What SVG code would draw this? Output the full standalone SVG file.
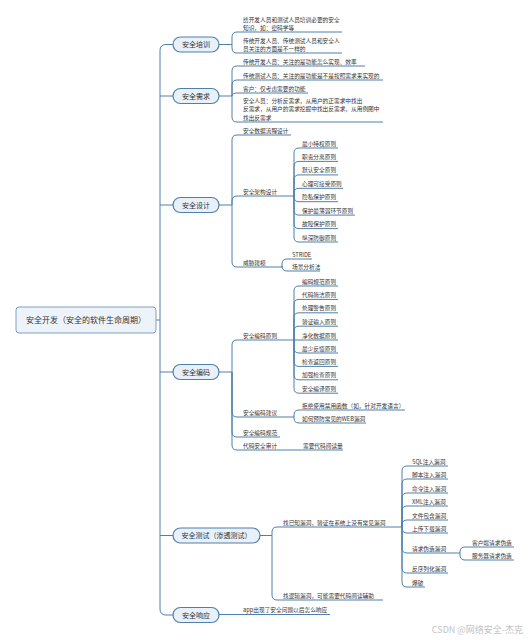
<svg xmlns="http://www.w3.org/2000/svg" width="529" height="640" viewBox="0 0 529 640">
<style>
text{font-family:"Noto Sans CJK SC","Liberation Sans",sans-serif;fill:#333}
.t{font-size:5.7px}
.n{font-size:7px;text-anchor:middle}
.r{font-size:8px}
.box{fill:#e8f1fa;stroke:#4f80ab;stroke-width:1.2}
.c path{fill:none;stroke:#4f80ab;stroke-width:1}
.wm{font-size:9px;fill:#c4c4c4;text-anchor:end}
</style>
<rect width="529" height="640" fill="#fff"/>
<g class="c" id="connectors">
<path d="M173 44.5 H166 Q160 44.5 160 50.5 V609 Q160 615 166 615 H173"/>
<path d="M160 96 H173 M160 205 H173 M160 372 H173 M160 535.5 H173 M156 320 H160"/>
<!-- 安全培训 -->
<path d="M219 44.5 H232 M232 44.5 V37 Q232 32 237 32 H342 M232 44.5 V48 Q232 53 237 53 H342"/>
<!-- 安全需求 -->
<path d="M219 96 H232 M232 96 V71 Q232 66 237 66 H365 M232 96 V85 Q232 80 237 80 H383 M232 96 Q232 93 237 93 H308 M232 96 V117 Q232 122 237 122 H383"/>
<!-- 安全设计 -->
<path d="M219 205 H232 M232 205 V140 Q232 135 237 135 H291 M232 205 V201 Q232 196 237 196 H294 M232 205 V262 Q232 267 237 267 H282"/>
<path d="M294 196 V153 Q294 148 299 148 H338 M294 196 V166.4 Q294 161.4 299 161.4 H338 M294 196 V179.9 Q294 174.9 299 174.9 H338 M294 196 V193.3 Q294 188.3 299 188.3 H343 M294 196 V196.7 Q294 201.7 299 201.7 H338 M294 196 V210.1 Q294 215.1 299 215.1 H355 M294 196 V223.6 Q294 228.6 299 228.6 H338 M294 196 V237 Q294 242 299 242 H338"/>
<path d="M282 267 V264 Q282 259 287 259 H312 M282 267 V266 Q282 271 287 271 H320"/>
<!-- 安全编码 -->
<path d="M219 372 H232 M232 372 V345 Q232 340 237 340 H294 M232 372 V412 Q232 417 237 417 H294 M232 372 V432 Q232 437 237 437 H280 M232 372 V445 Q232 450 237 450 H343"/>
<path d="M294 340 V291 Q294 286 299 286 H338 M294 340 V304.4 Q294 299.4 299 299.4 H338 M294 340 V317.8 Q294 312.8 299 312.8 H338 M294 340 V331.2 Q294 326.2 299 326.2 H338 M294 340 H338 M294 340 V348 Q294 353 299 353 H338 M294 340 V361.4 Q294 366.4 299 366.4 H338 M294 340 V374.8 Q294 379.8 299 379.8 H338 M294 340 V388.2 Q294 393.2 299 393.2 H338"/>
<path d="M294 417 V415 Q294 410 299 410 H405 M294 417 V418 Q294 423 299 423 H366"/>
<!-- 安全测试 -->
<path d="M260 535.5 H272 M272 535.5 V532 Q272 527 277 527 H402 M272 535.5 V595 Q272 600 277 600 H383"/>
<path d="M402 527 V471 Q402 466 407 466 H448 M402 527 V484 Q402 479 407 479 H448 M402 527 V498 Q402 493 407 493 H448 M402 527 V511 Q402 506 407 506 H448 M402 527 V525 Q402 520 407 520 H448 M402 527 V528 Q402 533 407 533 H448 M402 527 V548 Q402 553 407 553 H460 M402 527 V568 Q402 573 407 573 H448 M402 527 V582 Q402 587 407 587 H425"/>
<path d="M460 553 V552 Q460 547 465 547 H514 M460 553 V555 Q460 560 465 560 H514"/>
<!-- 安全响应 -->
<path d="M219 614.5 H330"/>
</g>

<g id="root"><rect x="16" y="307" width="140" height="26" rx="3" fill="#eef3f9" stroke="#7fa0c2" stroke-width="1"/><text class="r" x="26" y="323">安全开发（安全的软件生命周期）</text></g>

<g id="n-peixun"><rect class="box" x="173" y="37" width="46" height="15" rx="7.5"/><text class="n" x="196" y="47">安全培训</text></g>
<g id="n-xuqiu"><rect class="box" x="173" y="88.5" width="46" height="15" rx="7.5"/><text class="n" x="196" y="98.5">安全需求</text></g>
<g id="n-sheji"><rect class="box" x="173" y="197.5" width="46" height="15" rx="7.5"/><text class="n" x="196" y="207.5">安全设计</text></g>
<g id="n-bianma"><rect class="box" x="173" y="364.5" width="46" height="15" rx="7.5"/><text class="n" x="196" y="374.5">安全编码</text></g>
<g id="n-ceshi"><rect class="box" x="173" y="528" width="87" height="15" rx="7.5"/><text class="n" x="216.5" y="538">安全测试（渗透测试）</text></g>
<g id="n-xiangying"><rect class="box" x="173" y="607.5" width="46" height="15" rx="7.5"/><text class="n" x="196" y="617.5">安全响应</text></g>

<g id="l-peixun">
<text class="t" x="243" y="21.5">给开发人员和测试人员培训必要的安全</text>
<text class="t" x="243" y="29.5">知识，如：密码学等</text>
<text class="t" x="243" y="42.5">传统开发人员、传统测试人员和安全人</text>
<text class="t" x="243" y="50.5">员关注的方面是不一样的</text>
</g>
<g id="l-xuqiu">
<text class="t" x="243" y="63.5">传统开发人员：关注的是功能怎么实现、效率</text>
<text class="t" x="243" y="77.5">传统测试人员：关注的是功能是不是按照需求来实现的</text>
<text class="t" x="243" y="90.5">客户：仅考虑需要的功能</text>
<text class="t" x="243" y="103">安全人员：分析反需求，从用户的正需求中找出</text>
<text class="t" x="243" y="111.3">反需求，从用户的需求挖掘中找出反需求，从用例图中</text>
<text class="t" x="243" y="119.5">找出反需求</text>
</g>
<g id="l-sheji">
<text class="t" x="243" y="132.5">安全数据流程设计</text>
<text class="t" x="243" y="193.5">安全架构设计</text>
<text class="t" x="302" y="145.5">最小特权原则</text>
<text class="t" x="302" y="158.9">职责分离原则</text>
<text class="t" x="302" y="172.4">默认安全原则</text>
<text class="t" x="302" y="185.8">心理可接受原则</text>
<text class="t" x="302" y="199.2">隐私保护原则</text>
<text class="t" x="302" y="212.6">保护最薄弱环节原则</text>
<text class="t" x="302" y="226.1">故障保护原则</text>
<text class="t" x="302" y="239.5">纵深防御原则</text>
<text class="t" x="243" y="264.5">威胁建模</text>
<text class="t" x="292" y="256.5">STRIDE</text>
<text class="t" x="292" y="268.5">场景分析法</text>
</g>
<g id="l-bianma">
<text class="t" x="243" y="337.5">安全编码原则</text>
<text class="t" x="302" y="283.5">编码规范原则</text>
<text class="t" x="302" y="296.9">代码简洁原则</text>
<text class="t" x="302" y="310.3">处理警告原则</text>
<text class="t" x="302" y="323.7">验证输入原则</text>
<text class="t" x="302" y="337.5">净化数据原则</text>
<text class="t" x="302" y="350.5">最少反馈原则</text>
<text class="t" x="302" y="363.9">检查返回原则</text>
<text class="t" x="302" y="377.3">加强检查原则</text>
<text class="t" x="302" y="390.7">安全编译原则</text>
<text class="t" x="243" y="414.5">安全编码建议</text>
<text class="t" x="302" y="407.5">拒绝使用禁用函数（如，针对开发语言）</text>
<text class="t" x="302" y="420.5">如何预防常见的WEB漏洞</text>
<text class="t" x="243" y="434.5">安全编码规范</text>
<text class="t" x="243" y="447.5">代码安全审计</text>
<text class="t" x="303" y="447.5">需要代码阅读量</text>
</g>
<g id="l-ceshi">
<text class="t" x="283" y="524.5">找已知漏洞，验证在系统上没有常见漏洞</text>
<text class="t" x="412" y="463.5">SQL注入漏洞</text>
<text class="t" x="412" y="476.5">脚本注入漏洞</text>
<text class="t" x="412" y="490.5">命令注入漏洞</text>
<text class="t" x="412" y="503.5">XML注入漏洞</text>
<text class="t" x="412" y="517.5">文件包含漏洞</text>
<text class="t" x="412" y="530.5">上传下载漏洞</text>
<text class="t" x="412" y="550.5">请求伪造漏洞</text>
<text class="t" x="472" y="544.5">客户端请求伪造</text>
<text class="t" x="472" y="557.5">服务器请求伪造</text>
<text class="t" x="412" y="570.5">反序列化漏洞</text>
<text class="t" x="412" y="584.5">爆破</text>
<text class="t" x="283" y="597.5">找逻辑漏洞，可能需要代码阅读辅助</text>
</g>
<g id="l-xiangying">
<text class="t" x="243" y="612">app出现了安全问题以后怎么响应</text>
</g>
<text class="wm" x="523" y="633">CSDN @网络安全-杰克</text>
</svg>
